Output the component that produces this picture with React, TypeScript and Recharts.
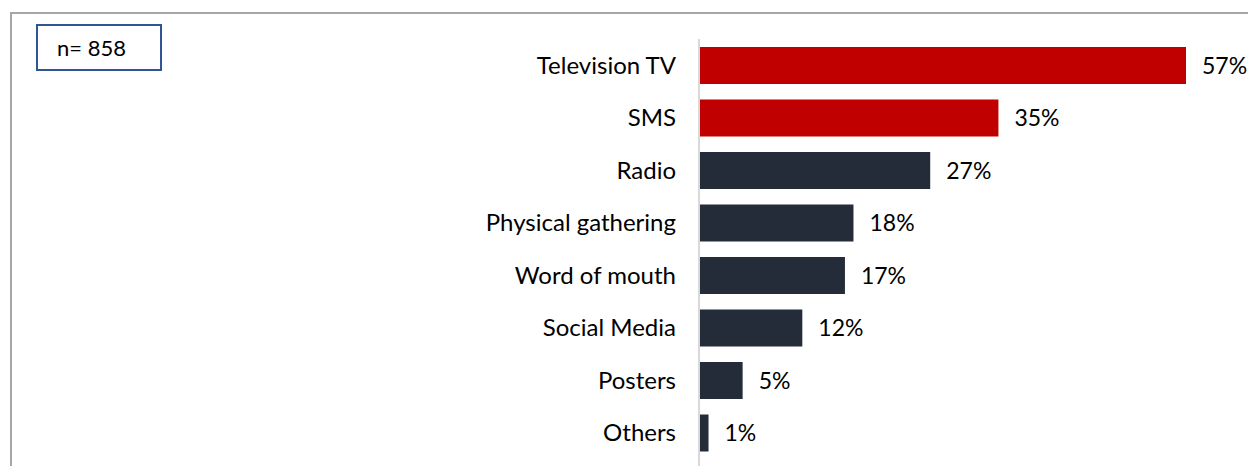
import { BarChart, Bar, XAxis, YAxis, Cell, LabelList } from 'recharts';

const channels = [
  'Television TV',
  'SMS',
  'Radio',
  'Physical gathering',
  'Word of mouth',
  'Social Media',
  'Posters',
  'Others',
];
const shares = [57, 35, 27, 18, 17, 12, 5, 1];
const highlighted = ['Television TV', 'SMS'];
const sampleLabel = 'n= 858';

const data = channels.map((name, i) => ({ name, value: shares[i] }));

const RED = '#c00000';
const DARK = '#252c39';
const FONT = 'Lato, "Open Sans", sans-serif';

export default function App() {
  return (
    <div
      style={{
        position: 'absolute',
        left: 0,
        top: 0,
        width: 1248,
        height: 466,
        background: '#fff',
        overflow: 'hidden',
        fontFamily: FONT,
      }}
    >
      {/* outer frame: top and left edges */}
      <div style={{ position: 'absolute', left: 10, top: 12, right: 0, height: 2, background: '#a6a6a6' }} />
      <div style={{ position: 'absolute', left: 10, top: 12, bottom: 0, width: 2, background: '#a6a6a6' }} />

      <div
        style={{
          position: 'absolute',
          left: 36,
          top: 24,
          width: 126,
          height: 47,
          border: '2px solid #2f5597',
          display: 'flex',
          alignItems: 'center',
          paddingLeft: 19,
          boxSizing: 'border-box',
          fontSize: 22,
          color: '#000',
        }}
      >
        {sampleLabel}
      </div>

      {/* category axis line */}
      <div style={{ position: 'absolute', left: 698, top: 39, bottom: 0, width: 2, background: '#d9d9d9' }} />

      <BarChart
        width={1248}
        height={466}
        data={data}
        layout="vertical"
        margin={{ top: 39, right: 62, bottom: 7, left: 0 }}
        barCategoryGap={16}
      >
        <XAxis type="number" domain={[0, 57]} hide />
        <YAxis
          type="category"
          dataKey="name"
          width={700}
          axisLine={false}
          tickLine={false}
          tickSize={0}
          tickMargin={24}
          tick={{ fill: '#000', fontSize: 24, fontFamily: FONT }}
          interval={0}
        />
        <Bar dataKey="value" isAnimationActive={false} barSize={37}>
          {data.map((d) => (
            <Cell key={d.name} fill={highlighted.includes(d.name) ? RED : DARK} />
          ))}
          <LabelList
            dataKey="value"
            position="right"
            offset={16}
            formatter={(v: number) => `${v}%`}
            style={{ fill: '#000', fontSize: 23, fontFamily: FONT }}
          />
        </Bar>
      </BarChart>
    </div>
  );
}
